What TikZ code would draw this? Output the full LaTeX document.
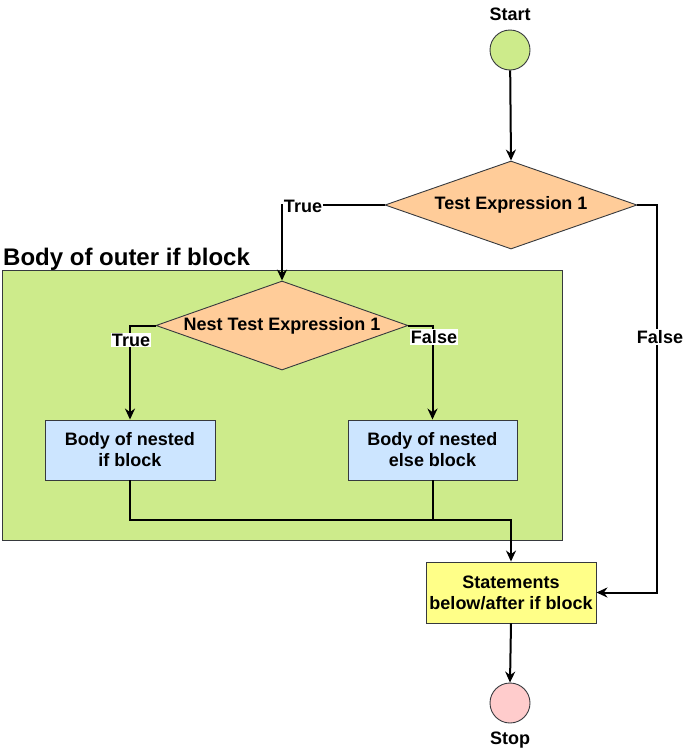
\documentclass[tikz,border=0pt]{standalone}
\usepackage{fontspec}
\setmainfont{Liberation Sans}
\usetikzlibrary{shapes.geometric,arrows.meta,positioning}
\definecolor{lgreen}{HTML}{CDEB8B}
\definecolor{lorange}{HTML}{FFCC99}
\definecolor{lblue}{HTML}{CCE5FF}
\definecolor{lyellow}{HTML}{FFFF88}
\definecolor{lpink}{HTML}{FFCCCC}
\definecolor{bordc}{HTML}{36393D}
\begin{document}
\begin{tikzpicture}[x=1pt,y=-1pt,
  every node/.style={font=\fontsize{18}{21}\selectfont\bfseries},
  shapebox/.style={draw=bordc,line width=0.9pt,rectangle,inner sep=0pt,align=center},
  decision/.style={draw=bordc,line width=0.9pt,diamond,aspect=2.86,inner sep=0pt,minimum width=252pt,minimum height=88pt,fill=lorange},
  terminal/.style={draw=bordc,line width=0.9pt,circle,minimum size=40pt,inner sep=0pt},
  edge/.style={line width=2pt,black},
  arr/.style={edge,-{Stealth[length=11pt,width=10pt]}},
  elabel/.style={fill=white,inner sep=1pt}]
\useasboundingbox (0,0) rectangle (683,750);
% outer container
\node[shapebox,fill=lgreen,minimum width=560pt,minimum height=270pt] (outer) at (282,405) {};
\node[anchor=base west,inner sep=0pt,font=\fontsize{24}{28}\selectfont\bfseries] (outerlbl) at (3,265) {Body of outer if block};
% nodes
\node[terminal,fill=lgreen] (start) at (510,50) {};
\node[inner sep=0pt] (startlbl) at (510,14) {Start};
\node[decision] (t1) at (511,205) {Test Expression 1};
\node[decision,minimum height=89pt] (n1) at (282,325.5) {Nest Test Expression 1};
\node[shapebox,fill=lblue,minimum width=170pt,minimum height=60pt] (b1) at (130,450) {Body of nested\\if block};
\node[shapebox,fill=lblue,minimum width=169pt,minimum height=60pt] (b2) at (432.5,450) {Body of nested\\else block};
\node[shapebox,fill=lyellow,minimum width=170pt,minimum height=61pt] (st) at (511,592.5) {Statements\\below/after if block};
\node[terminal,fill=lpink] (stop) at (510,703) {};
\node[inner sep=0pt] (stoplbl) at (510,740) {Stop};
% coordinates
\coordinate (m) at (511,520);
\coordinate (fr) at (657,205);
% edges
\draw[arr] (start) -- (t1.north);
\draw[arr] (t1.west) -| (n1.north);
\node[elabel] (lt1) at (303,206) {True};
\draw[arr] (n1.west) -| (b1.north);
\node[elabel] (lt2) at (131,340) {True};
\draw[arr] (n1.east) -| (b2.north);
\node[elabel] (lf2) at (434,337) {False};
\draw[edge] (b2.south) -- (b2.south |- m);
\draw[arr] (b1.south) |- (m) -- (st.north);
\draw[arr] (t1.east) -- (fr) |- (st.east);
\node[elabel] (lf1) at (660,337) {False};
\draw[arr] (st.south) -- (stop.north);
\end{tikzpicture}
\end{document}
